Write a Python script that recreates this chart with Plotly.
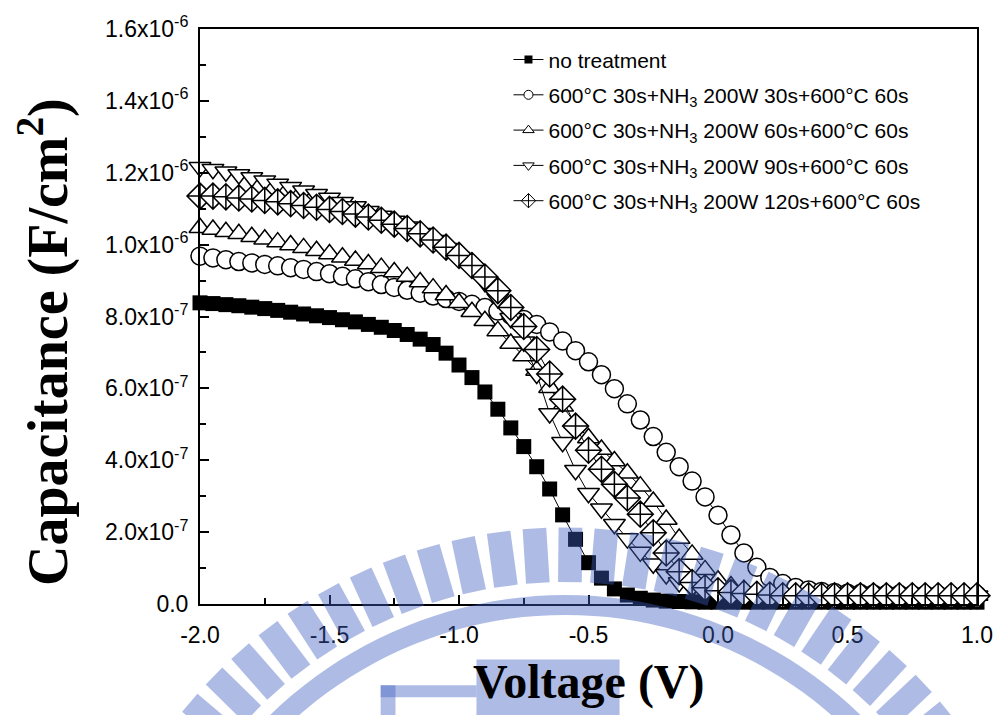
import math
import plotly.graph_objects as go

voltage = [-2.0, -1.95, -1.9, -1.85, -1.8, -1.75, -1.7, -1.65, -1.6, -1.55,
           -1.5, -1.45, -1.4, -1.35, -1.3, -1.25, -1.2, -1.15, -1.1, -1.05,
           -1.0, -0.95, -0.9, -0.85, -0.8, -0.75, -0.7, -0.65, -0.6, -0.55,
           -0.5, -0.45, -0.4, -0.35, -0.3, -0.25, -0.2, -0.15, -0.1, -0.05,
           0.0, 0.05, 0.1, 0.15, 0.2, 0.25, 0.3, 0.35, 0.4, 0.45,
           0.5, 0.55, 0.6, 0.65, 0.7, 0.75, 0.8, 0.85, 0.9, 0.95, 1.0]

# capacitance values in units of 1e-7 F/cm^2
no_treatment = [8.38, 8.36, 8.33, 8.30, 8.26, 8.22, 8.17, 8.12, 8.07, 8.02,
                7.97, 7.91, 7.85, 7.78, 7.70, 7.61, 7.50, 7.37, 7.22, 6.98,
                6.65, 6.30, 5.90, 5.42, 4.90, 4.38, 3.82, 3.20, 2.48, 1.80,
                1.15, 0.72, 0.42, 0.25, 0.16, 0.11, 0.08, 0.07, 0.06, 0.05,
                0.05, 0.05, 0.05, 0.05, 0.05, 0.05, 0.05, 0.05, 0.05, 0.05,
                0.05, 0.05, 0.05, 0.05, 0.05, 0.05, 0.05, 0.05, 0.05, 0.05, 0.05]
nh3_30s = [9.68, 9.63, 9.58, 9.53, 9.49, 9.45, 9.41, 9.36, 9.31, 9.25,
           9.19, 9.12, 9.05, 8.97, 8.89, 8.81, 8.73, 8.65, 8.57, 8.50,
           8.42, 8.34, 8.25, 8.15, 8.04, 7.92, 7.78, 7.57, 7.32, 7.05,
           6.74, 6.38, 5.99, 5.57, 5.12, 4.66, 4.22, 3.82, 3.42, 2.98,
           2.47, 1.92, 1.42, 1.02, 0.74, 0.57, 0.46, 0.39, 0.35, 0.32,
           0.30, 0.29, 0.28, 0.27, 0.27, 0.26, 0.26, 0.25, 0.25, 0.25, 0.25]
nh3_60s = [10.47, 10.42, 10.36, 10.30, 10.22, 10.15, 10.07, 9.99, 9.91, 9.83,
           9.74, 9.65, 9.56, 9.46, 9.36, 9.24, 9.11, 8.96, 8.79, 8.60,
           8.38, 8.13, 7.88, 7.60, 7.25, 6.90, 6.50, 6.02, 5.50, 5.02,
           4.62, 4.30, 3.98, 3.64, 3.28, 2.85, 2.35, 1.82, 1.38, 0.95,
           0.66, 0.50, 0.40, 0.34, 0.30, 0.27, 0.25, 0.24, 0.24, 0.24,
           0.24, 0.24, 0.24, 0.24, 0.24, 0.24, 0.24, 0.24, 0.24, 0.24, 0.24]
nh3_90s = [12.15, 12.10, 12.03, 11.95, 11.87, 11.78, 11.69, 11.60, 11.50, 11.40,
           11.30, 11.18, 11.06, 10.93, 10.80, 10.66, 10.50, 10.32, 10.12, 9.90,
           9.65, 9.35, 8.95, 8.50, 7.95, 7.30, 6.40, 5.30, 4.50, 3.72,
           3.08, 2.65, 2.22, 1.82, 1.45, 1.12, 0.82, 0.60, 0.45, 0.36,
           0.30, 0.27, 0.25, 0.23, 0.23, 0.23, 0.23, 0.23, 0.23, 0.23,
           0.23, 0.23, 0.23, 0.23, 0.23, 0.23, 0.23, 0.23, 0.23, 0.23, 0.23]
nh3_120s = [11.35, 11.35, 11.33, 11.30, 11.27, 11.23, 11.19, 11.14, 11.09, 11.04,
            10.98, 10.92, 10.85, 10.77, 10.68, 10.57, 10.45, 10.30, 10.13, 9.93,
            9.70, 9.42, 9.10, 8.72, 8.25, 7.72, 7.08, 6.40, 5.70, 4.95,
            4.28, 3.75, 3.33, 2.95, 2.50, 1.98, 1.42, 0.90, 0.60, 0.45,
            0.37, 0.32, 0.29, 0.27, 0.25, 0.23, 0.23, 0.23, 0.23, 0.23,
            0.23, 0.23, 0.23, 0.23, 0.23, 0.23, 0.23, 0.23, 0.23, 0.23, 0.23]

names = ["no treatment",
         "600°C 30s+NH<sub>3</sub> 200W 30s+600°C 60s",
         "600°C 30s+NH<sub>3</sub> 200W 60s+600°C 60s",
         "600°C 30s+NH<sub>3</sub> 200W 90s+600°C 60s",
         "600°C 30s+NH<sub>3</sub> 200W 120s+600°C 60s"]
series = [no_treatment, nh3_30s, nh3_60s, nh3_90s, nh3_120s]
symbols = ["square", "circle", "triangle-up", "triangle-down", "diamond-cross"]
fills = ["black", "white", "white", "white", "white"]
sizes = [15, 18, 19, 19, 20]
legend_sizes = [8, 9, 10, 10, 11]

ytick_vals = [0, 2e-7, 4e-7, 6e-7, 8e-7, 1e-6, 1.2e-6, 1.4e-6, 1.6e-6]
ytick_text = ["0.0", "2.0x10<sup>-7</sup>", "4.0x10<sup>-7</sup>", "6.0x10<sup>-7</sup>",
              "8.0x10<sup>-7</sup>", "1.0x10<sup>-6</sup>", "1.2x10<sup>-6</sup>",
              "1.4x10<sup>-6</sup>", "1.6x10<sup>-6</sup>"]
xtick_vals = [-2.0, -1.5, -1.0, -0.5, 0.0, 0.5, 1.0]
xtick_text = ["-2.0", "-1.5", "-1.0", "-0.5", "0.0", "0.5", "1.0"]

fig = go.Figure()
for i, (nm, vals) in enumerate(zip(names, series)):
    fig.add_trace(go.Scatter(
        x=voltage, y=[v * 1e-7 for v in vals], mode="lines+markers",
        line=dict(color="black", width=1),
        marker=dict(symbol=symbols[i], size=sizes[i], color=fills[i],
                    line=dict(color="black", width=0 if i == 0 else 1.5)),
        showlegend=False, cliponaxis=False))
for i, nm in enumerate(names):
    fig.add_trace(go.Scatter(
        x=[None], y=[None], mode="lines+markers", name=nm, legendgroup=str(i),
        line=dict(color="black", width=1),
        marker=dict(symbol=symbols[i], size=legend_sizes[i], color=fills[i],
                    line=dict(color="black", width=0 if i == 0 else 1))))

axis_common = dict(showline=True, linecolor="black", linewidth=2, mirror=True,
                   ticks="inside", tickcolor="black", tickwidth=2, ticklen=9,
                   showgrid=False, zeroline=False,
                   tickfont=dict(family="Liberation Sans, Arial", size=23, color="black"))
fig.update_xaxes(range=[-2.0, 1.0], tickvals=xtick_vals, ticktext=xtick_text,
                 ticklabelstandoff=9,
                 minor=dict(ticks="inside", dtick=0.25, ticklen=6, tickwidth=2, tickcolor="black"),
                 **axis_common)
fig.update_yaxes(range=[0, 1.6e-6], tickvals=ytick_vals, ticktext=ytick_text,
                 ticklabelstandoff=5,
                 minor=dict(ticks="inside", dtick=1e-7, ticklen=6, tickwidth=2, tickcolor="black"),
                 **axis_common)

# ---- watermark (decorative logo, drawn translucent on top) ----
PX0, PXW, PY0, PYH = 200.0, 787.0, 604.0, 580.0


def to_paper(px, py):
    return (px - PX0) / PXW, (PY0 - py) / PYH


def polar(cx, cy, r, deg):
    a = math.radians(deg)
    return cx + r * math.sin(a), cy - r * math.cos(a)


def path_from(points):
    pts = [to_paper(*p) for p in points]
    return "M " + " L ".join(f"{x:.4f},{y:.4f}" for x, y in pts) + " Z"


WM_COLOR = "rgb(63,96,193)"
WM_OPACITY = 0.42
cx, cy = 570.0, 1025.0
shapes = []
# radial bars (rectangles aligned with the radius)
ang = -54.0
while ang <= 54.01:
    a = math.radians(ang)
    ux, uy = math.sin(a), -math.cos(a)        # radial direction (screen coords)
    vx, vy = math.cos(a), math.sin(a)         # tangential direction
    r0, r1, hw = 443.0, 498.0, 12.0
    pts = [(cx + ux * r0 - vx * hw, cy + uy * r0 - vy * hw),
           (cx + ux * r1 - vx * hw, cy + uy * r1 - vy * hw),
           (cx + ux * r1 + vx * hw, cy + uy * r1 + vy * hw),
           (cx + ux * r0 + vx * hw, cy + uy * r0 + vy * hw)]
    shapes.append(dict(type="path", path=path_from(pts)))
    ang += 4.2
# solid arc band
outer = [polar(cx, cy, 430, a) for a in range(-58, 59, 2)]
inner = [polar(cx, cy, 410, a) for a in range(58, -59, -2)]
shapes.append(dict(type="path", path=path_from(outer + inner)))
# building blocks
for (x0, y0, x1, y1) in [(480, 660, 625, 720), (383, 686, 480, 698), (383, 686, 398, 720)]:
    shapes.append(dict(type="path", path=path_from([(x0, y0), (x1, y0), (x1, y1), (x0, y1)])))
for s in shapes:
    s.update(xref="paper", yref="paper", fillcolor=WM_COLOR, opacity=WM_OPACITY,
             line=dict(width=0), layer="above")

fig.update_layout(
    width=1005, height=715, plot_bgcolor="white", paper_bgcolor="white",
    margin=dict(l=200, r=18, t=24, b=111),
    legend=dict(x=0.397, y=0.982, xanchor="left", yanchor="top", bgcolor="rgba(0,0,0,0)",
                font=dict(family="Liberation Sans, Arial", size=21, color="black"),
                tracegroupgap=5, itemwidth=30),
    shapes=shapes,
    annotations=[
        dict(text="<b>Voltage (V)</b>", xref="paper", yref="paper", x=0.5, y=-0.135,
             xanchor="center", yanchor="middle", showarrow=False,
             font=dict(family="Liberation Serif, Times New Roman", size=48, color="black")),
        dict(text="<b>Capacitance (F/cm<sup>2</sup>)</b>", xref="paper", yref="paper",
             x=-0.2, y=0.455, xanchor="center", yanchor="middle", showarrow=False,
             textangle=-90,
             font=dict(family="Liberation Serif, Times New Roman", size=56, color="black")),
    ],
)

fig.write_html("out.html")
